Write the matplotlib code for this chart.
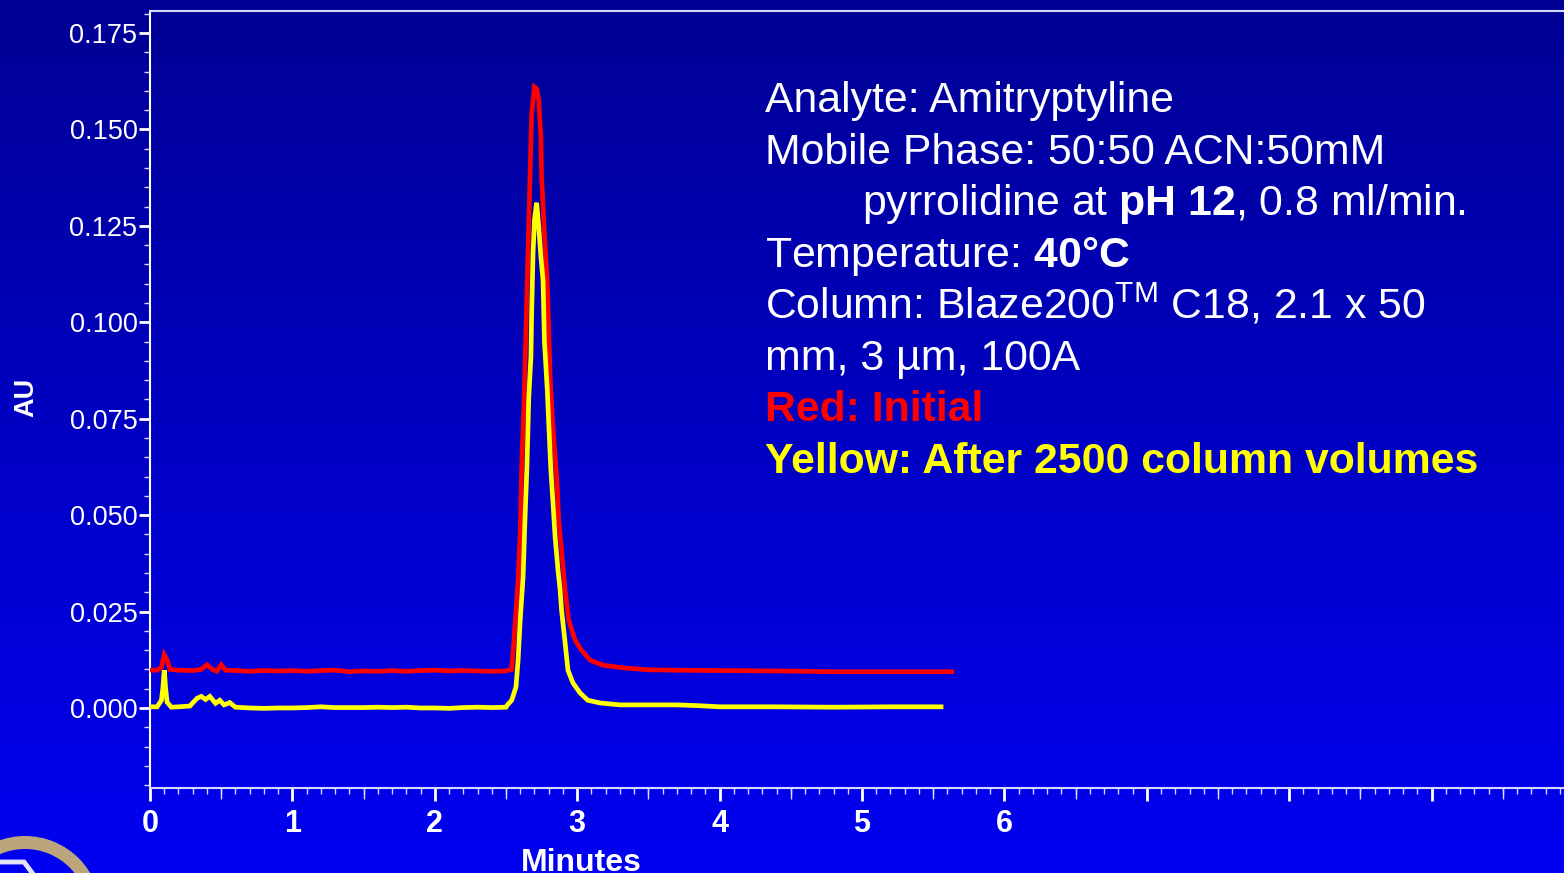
import numpy as np
import matplotlib
matplotlib.use("Agg")
import matplotlib.pyplot as plt
import matplotlib.ticker as ticker
from matplotlib.colors import LinearSegmentedColormap
from matplotlib.patches import Wedge

plt.rcParams["font.family"] = ["Liberation Sans", "DejaVu Sans"]
plt.rcParams["mathtext.fontset"] = "custom"
plt.rcParams["mathtext.rm"] = "Liberation Sans"
plt.rcParams["mathtext.bf"] = "Liberation Sans:bold"
plt.rcParams["mathtext.it"] = "Liberation Sans:italic"

# ── data ───────────────────────────────────────────────────────────────────
red_t = [0.00, 0.05, 0.08, 0.10, 0.12, 0.14, 0.20, 0.30, 0.36, 0.40, 0.44, 0.47,
         0.50, 0.53, 0.60, 0.70, 0.80, 0.90, 1.00, 1.10, 1.20, 1.30, 1.40, 1.50,
         1.60, 1.70, 1.80, 1.90, 2.00, 2.10, 2.20, 2.30, 2.40, 2.50, 2.54, 2.556,
         2.585, 2.60, 2.61, 2.626, 2.64, 2.655, 2.67, 2.68, 2.70, 2.715, 2.73,
         2.745, 2.75, 2.77, 2.79, 2.80, 2.81, 2.825, 2.86, 2.87, 2.89, 2.915,
         2.94, 2.985, 3.03, 3.09, 3.18, 3.32, 3.50, 3.70, 4.00, 4.40, 4.80,
         5.20, 5.63]
red_au = [0.0098, 0.0098, 0.0105, 0.0138, 0.0125, 0.0100, 0.0098, 0.0097, 0.0100,
          0.0112, 0.0100, 0.0095, 0.0112, 0.0098, 0.0097, 0.0095, 0.0097, 0.0096,
          0.0097, 0.0095, 0.0097, 0.0098, 0.0094, 0.0096, 0.0095, 0.0097, 0.0095,
          0.0097, 0.0098, 0.0096, 0.0097, 0.0096, 0.0095, 0.0096, 0.0100, 0.0176,
          0.0332, 0.0460, 0.0625, 0.0780, 0.0980, 0.1188, 0.1395, 0.1540, 0.1610,
          0.1605, 0.1576, 0.1480, 0.1377, 0.1230, 0.1100, 0.0980, 0.0858, 0.0755,
          0.0573, 0.0487, 0.0410, 0.0306, 0.0228, 0.0176, 0.0150, 0.0124, 0.0111,
          0.0104, 0.0099, 0.0098, 0.0097, 0.0096, 0.0094, 0.0094, 0.0094]

yellow_t = [0.00, 0.05, 0.08, 0.09, 0.10, 0.11, 0.12, 0.15, 0.20, 0.28, 0.33, 0.36,
            0.39, 0.42, 0.46, 0.49, 0.52, 0.56, 0.60, 0.70, 0.80, 0.90, 1.00, 1.10,
            1.20, 1.30, 1.40, 1.50, 1.60, 1.70, 1.80, 1.90, 2.00, 2.10, 2.20, 2.30,
            2.40, 2.50, 2.51, 2.54, 2.57, 2.585, 2.60, 2.62, 2.633, 2.647, 2.66,
            2.675, 2.68, 2.69, 2.70, 2.715, 2.73, 2.745, 2.76, 2.765, 2.77, 2.79,
            2.80, 2.815, 2.83, 2.845, 2.865, 2.88, 2.89, 2.915, 2.935, 2.97, 3.02,
            3.075, 3.16, 3.30, 3.50, 3.70, 3.85, 4.00, 4.40, 4.80, 5.20, 5.555]
yellow_au = [0.0003, 0.0003, 0.0020, 0.0050, 0.0098, 0.0050, 0.0015, 0.0002, 0.0003,
             0.0005, 0.0025, 0.0030, 0.0022, 0.0030, 0.0012, 0.0020, 0.0008, 0.0014,
             0.0002, 0.0000, -0.0001, 0.0000, 0.0000, 0.0001, 0.0003, 0.0001, 0.0001,
             0.0001, 0.0002, 0.0001, 0.0002, 0.0000, 0.0000, -0.0001, 0.0001, 0.0002,
             0.0001, 0.0002, 0.0008, 0.0020, 0.0054, 0.0124, 0.0230, 0.0340, 0.0487,
             0.0625, 0.0806, 0.0910, 0.1024, 0.1180, 0.1265, 0.1310, 0.1247, 0.1170,
             0.1110, 0.1030, 0.0950, 0.0824, 0.0739, 0.0617, 0.0532, 0.0443, 0.0358,
             0.0306, 0.0254, 0.0169, 0.0098, 0.0065, 0.0039, 0.0020, 0.0013, 0.0008,
             0.0008, 0.0008, 0.0006, 0.0003, 0.0003, 0.0002, 0.0003, 0.0003]

x_labels = ["0", "1", "2", "3", "4", "5", "6"]

W, H = 1564, 873
fig = plt.figure(figsize=(W / 100, H / 100), dpi=100)

# background gradient (dark navy at top -> bright blue at bottom)
bg = fig.add_axes([0, 0, 1, 1], zorder=-10)
cmap = LinearSegmentedColormap.from_list("bg", ["#000094", "#0000F2"])
bg.imshow(np.linspace(0, 1, 256).reshape(-1, 1), aspect="auto", cmap=cmap,
          extent=[0, 1, 0, 1], origin="upper")
bg.set_xlim(0, 1)
bg.set_ylim(0, 1)
bg.set_axis_off()

# partial logo in the bottom-left corner (drawn in inches so it stays round)
ring = Wedge((0.25, (H - 912) / 100), 0.76, 0, 360, width=0.13,
             transform=fig.dpi_scale_trans, facecolor="#BBA57C", edgecolor="none")
bg.add_patch(ring)
bg.plot([0, 0.24, 0.33], [(H - 862) / 100, (H - 862) / 100, (H - 874) / 100],
        transform=fig.dpi_scale_trans, color="#E4E4FF", linewidth=3.5,
        solid_joinstyle="miter")

ax = fig.add_axes([150 / W, 1 - 788 / H, 1424 / W, 777 / H])
ax.patch.set_alpha(0)

ax.plot(red_t, red_au, color="#FF0000", linewidth=3.4, solid_joinstyle="miter", zorder=3)
ax.plot(yellow_t, yellow_au, color="#FFFF00", linewidth=3.4, solid_joinstyle="miter", zorder=4)

ax.set_xlim(0, 10)
ax.set_ylim(-0.02075, 0.1807)

spine_col = "#D8D8FF"
ax.spines["right"].set_visible(False)
ax.spines["left"].set_color("white")
ax.spines["left"].set_linewidth(1.5)
for s in ["top", "bottom"]:
    ax.spines[s].set_color(spine_col)
    ax.spines[s].set_linewidth(1.5)

ax.xaxis.set_major_locator(ticker.MultipleLocator(1))
ax.xaxis.set_minor_locator(ticker.MultipleLocator(0.1))
ax.xaxis.set_major_formatter(ticker.FuncFormatter(
    lambda v, p: x_labels[int(round(v))] if 0 <= round(v) < len(x_labels) else ""))
ax.yaxis.set_major_locator(ticker.MultipleLocator(0.025))
ax.yaxis.set_minor_locator(ticker.MultipleLocator(0.005))
ax.yaxis.set_major_formatter(ticker.FormatStrFormatter("%.3f"))

ax.tick_params(axis="x", which="major", direction="out", length=9, width=2,
               colors="white", labelsize=22, pad=6)
ax.tick_params(axis="x", which="minor", direction="out", length=4, width=1, color=spine_col)
ax.tick_params(axis="y", which="major", direction="out", length=8, width=2,
               colors="white", labelsize=19.5, pad=1)
ax.tick_params(axis="y", which="minor", direction="out", length=4, width=1, color=spine_col)
for lab in ax.get_xticklabels():
    lab.set_fontweight("bold")

# medium half-minute ticks
sec = ax.secondary_xaxis("bottom")
sec.set_xticks(np.arange(0.5, 10, 1.0))
sec.set_xticklabels([])
sec.tick_params(direction="out", length=8, width=1, color=spine_col)
sec.spines["bottom"].set_visible(False)

ax.set_ylabel("AU", color="white", fontsize=19.5, fontweight="bold", labelpad=0)
ax.yaxis.set_label_coords(-111 / 1424, 0.503)
fig.text(581 / W, 1 - 871 / H, "Minutes", color="white", fontsize=23,
         fontweight="bold", ha="center", va="baseline")

# annotation block
fs = 30.8
x0 = 765 / W
lines = [
    (x0, 112, "Analyte: Amitryptyline", "white", "normal"),
    (x0, 164, "Mobile Phase: 50:50 ACN:50mM", "white", "normal"),
    (862 / W, 215, r"pyrrolidine at $\mathbf{pH\ 12}$, 0.8 ml/min.", "white", "normal"),
    (x0, 267, r"Temperature: $\mathbf{40°C}$", "white", "normal"),
    (x0, 318, r"Column: Blaze200$^{\mathrm{TM}}$ C18, 2.1 x 50", "white", "normal"),
    (x0, 370, "mm, 3 µm, 100A", "white", "normal"),
    (x0, 421, "Red: Initial", "#FF0000", "bold"),
    (x0, 473, "Yellow: After 2500 column volumes", "#FFFF00", "bold"),
]
for x, yb, txt, col, wt in lines:
    fig.text(x, 1 - yb / H, txt, color=col, fontsize=fs, fontweight=wt,
             ha="left", va="baseline")

fig.savefig("out.png", dpi=100)
